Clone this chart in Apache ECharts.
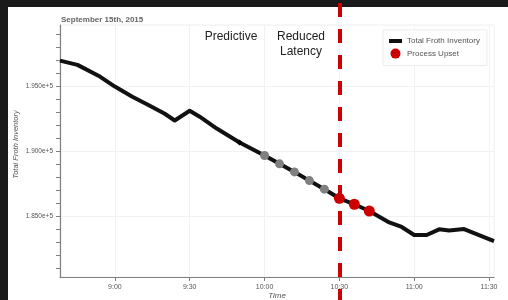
<!DOCTYPE html>
<html>
<head>
<meta charset="utf-8">
<script src="https://cdn.jsdelivr.net/npm/echarts@6/dist/echarts.min.js"></script>
<style>
  html, body { margin: 0; padding: 0; background: #1a1a1a; }
  .paper { position: absolute; left: 8px; top: 7px; width: 500px; height: 293px; background: #fff; }
  #chart { position: absolute; left: 0; top: 0; width: 508px; height: 300px; }
</style>
</head>
<body>
<div class="paper"></div>
<div id="chart"></div>
<script>
// time of day (H:MM) and inventory values
const lineTimes = ['8:38', '8:45', '8:54', '9:00', '9:07', '9:14', '9:20', '9:24', '9:30', '9:34',
  '9:41', '9:50', '10:00', '10:06', '10:12', '10:18', '10:24', '10:30', '10:36', '10:42',
  '10:50', '10:55', '11:00', '11:05', '11:10', '11:14', '11:20', '11:32']
const lineValues = [196960, 196630, 195730, 194960, 194180, 193490, 192870, 192350, 193100, 192640,
  191710, 190660, 189650, 189010, 188390, 187720, 187060, 186360, 185900, 185380,
  184500, 184150, 183530, 183530, 183970, 183880, 183990, 183070]

// predictive points (grey) and process upset points (red)
const predictTimes = ['10:00', '10:06', '10:12', '10:18', '10:24']
const predictValues = [189650, 189010, 188390, 187720, 187060]
const upsetTimes = ['10:30', '10:36', '10:42']
const upsetValues = [186360, 185900, 185380]

// small marker on the line
const markerTimes = ['9:50']
const markerValues = [190660]

// reduced latency boundary
const boundaryTime = '10:30'

// axes
const xRange = ['8:38', '11:32']
const xTickLabels = ['9:00', '9:30', '10:00', '10:30', '11:00', '11:30']
const yRange = [180300, 199700]
const yLabelValues = [185000, 190000, 195000]
const yMinorValues = [181000, 182000, 183000, 184000, 185000, 186000, 187000, 188000, 189000, 190000,
  191000, 192000, 193000, 194000, 195000, 196000, 197000, 198000, 199000]

const FONT = "'Liberation Sans', Arial, Helvetica, sans-serif"

function toMin(s) {
  const [h, m] = s.split(':').map(Number)
  return h * 60 + m
}
function fmtMin(v) {
  const h = Math.floor(v / 60)
  const m = Math.round(v - h * 60)
  return h + ':' + String(m).padStart(2, '0')
}
function pairs(times, values) {
  return times.map((t, i) => [toMin(t), values[i]])
}

const chart = echarts.init(document.getElementById('chart'), null, { renderer: 'canvas' })

const axisGrey = '#808080'

const option = {
  backgroundColor: 'transparent',
  animation: false,
  textStyle: { fontFamily: FONT },
  title: {
    text: 'September 15th, 2015',
    left: 56,
    top: 11,
    textStyle: { fontSize: 8, fontWeight: 'bold', color: '#666', fontFamily: FONT }
  },
  legend: {
    orient: 'vertical',
    left: 383,
    top: 30,
    padding: [7, 7, 7, 6],
    itemGap: 3.6,
    itemWidth: 13,
    itemHeight: 10,
    backgroundColor: '#fff',
    borderColor: '#ececec',
    borderWidth: 1,
    textStyle: { fontSize: 8, color: '#555', fontFamily: FONT },
    data: [
      { name: 'Total Froth Inventory', icon: 'path://M0,3h13v4h-13z' },
      { name: 'Process Upset', icon: 'circle' }
    ]
  },
  grid: [
    { left: 60, right: 14, top: 25, bottom: 23, outerBoundsMode: 'none', show: true, borderColor: '#eeeeee', borderWidth: 1 },
    { left: 60, right: 14, top: 0, bottom: 0, outerBoundsMode: 'none' }
  ],
  xAxis: [
    {
      type: 'value',
      gridIndex: 0,
      min: toMin(xRange[0]),
      max: toMin(xRange[1]),
      name: 'Time',
      nameLocation: 'middle',
      nameGap: 15,
      nameMoveOverlap: false,
      nameTextStyle: { fontStyle: 'italic', fontSize: 8, color: '#555', fontFamily: FONT },
      axisLine: { lineStyle: { color: axisGrey, width: 1.2 } },
      axisTick: {
        show: true,
        length: 4,
        customValues: xTickLabels.map(toMin),
        lineStyle: { color: axisGrey }
      },
      axisLabel: {
        customValues: xTickLabels.map(toMin),
        formatter: fmtMin,
        fontSize: 7,
        color: '#555',
        margin: 7
      },
      splitLine: { show: true, lineStyle: { color: '#f2f2f2', width: 1 } }
    },
    {
      type: 'value',
      gridIndex: 1,
      min: toMin(xRange[0]),
      max: toMin(xRange[1]),
      show: false
    }
  ],
  yAxis: [
    {
      type: 'value',
      gridIndex: 0,
      min: yRange[0],
      max: yRange[1],
      name: 'Total Froth Inventory',
      nameLocation: 'middle',
      nameGap: 40,
      nameMoveOverlap: false,
      nameTextStyle: { fontStyle: 'italic', fontSize: 7.5, color: '#555', fontFamily: FONT, padding: [0, 0, 0, 13] },
      axisLine: { show: true, lineStyle: { color: axisGrey, width: 1.2 } },
      axisTick: {
        show: true,
        length: 4,
        customValues: yMinorValues,
        lineStyle: { color: axisGrey }
      },
      axisLabel: {
        customValues: yLabelValues,
        formatter: v => (v / 1e5).toFixed(3) + 'e+5',
        fontSize: 6.5,
        color: '#555',
        margin: 7
      },
      splitLine: { show: false }
    },
    {
      // only carries the faint horizontal grid lines at the labelled values
      type: 'value',
      gridIndex: 0,
      min: yRange[0],
      max: yRange[1],
      axisLine: { show: false },
      axisTick: { show: false, customValues: yLabelValues },
      axisLabel: { show: false, customValues: yLabelValues },
      splitLine: { show: true, lineStyle: { color: '#f2f2f2', width: 1 } }
    },
    {
      type: 'value',
      gridIndex: 1,
      min: 0,
      max: 1,
      show: false
    }
  ],
  series: [
    {
      name: 'Total Froth Inventory',
      type: 'line',
      xAxisIndex: 0,
      yAxisIndex: 0,
      data: pairs(lineTimes, lineValues),
      symbol: 'none',
      lineStyle: { color: '#111', width: 4, join: 'round' },
      itemStyle: { color: '#111' },
      z: 3
    },
    {
      name: 'marker',
      type: 'scatter',
      xAxisIndex: 0,
      yAxisIndex: 0,
      data: pairs(markerTimes, markerValues),
      symbol: 'diamond',
      symbolSize: 6,
      itemStyle: { color: '#000', opacity: 1 },
      z: 4
    },
    {
      name: 'Predictive',
      type: 'scatter',
      xAxisIndex: 0,
      yAxisIndex: 0,
      data: pairs(predictTimes, predictValues),
      symbolSize: 9,
      itemStyle: { color: '#808080', opacity: 1 },
      z: 5
    },
    {
      name: 'Process Upset',
      type: 'scatter',
      xAxisIndex: 0,
      yAxisIndex: 0,
      data: pairs(upsetTimes, upsetValues),
      symbolSize: 11,
      itemStyle: { color: '#cc0000', opacity: 1 },
      z: 6
    },
    {
      // dashed boundary, runs the full height of the picture
      name: 'boundary',
      type: 'line',
      xAxisIndex: 1,
      yAxisIndex: 2,
      data: [],
      silent: true,
      z: 5,
      markLine: {
        silent: true,
        symbol: ['none', 'none'],
        label: { show: false },
        lineStyle: { color: '#cc0000', width: 4, type: [14, 12], dashOffset: 3 },
        data: [{ xAxis: toMin(boundaryTime) }]
      }
    }
  ],
  graphic: [
    {
      type: 'text',
      x: 231,
      y: 36.5,
      style: {
        text: 'Predictive',
        fontSize: 12,
        fontFamily: FONT,
        fill: '#222',
        textAlign: 'center',
        textVerticalAlign: 'middle'
      }
    },
    {
      type: 'text',
      x: 301,
      y: 44,
      style: {
        text: 'Reduced\nLatency',
        fontSize: 12,
        lineHeight: 14.5,
        fontFamily: FONT,
        fill: '#222',
        textAlign: 'center',
        textVerticalAlign: 'middle'
      }
    }
  ]
}

chart.setOption(option)
window.addEventListener('resize', () => chart.resize())
</script>
</body>
</html>
